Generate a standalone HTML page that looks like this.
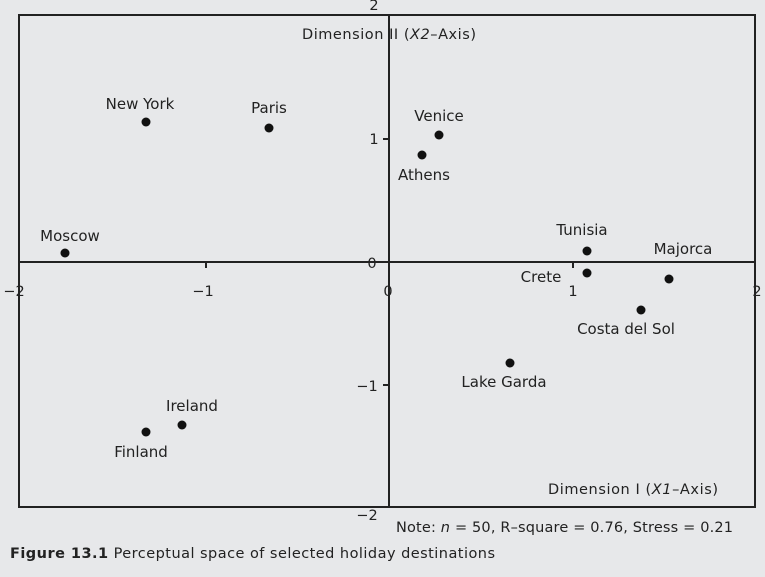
<!DOCTYPE html>
<html><head><style>
html,body{margin:0;padding:0;background:#e7e8ea;}
svg{display:block;font-family:"DejaVu Sans","Liberation Sans",sans-serif;}
</style></head><body>
<svg width="765" height="577" viewBox="0 0 765 577">
<rect width="765" height="577" fill="#e7e8ea"/>
<g stroke="#222" stroke-width="2" fill="none">
<rect x="19" y="15" width="736" height="492"/>
<line x1="389" y1="15" x2="389" y2="507"/>
<line x1="19" y1="262" x2="755" y2="262"/>
<line x1="206" y1="262" x2="206" y2="268"/>
<line x1="573" y1="262" x2="573" y2="268"/>
<line x1="383" y1="139" x2="389" y2="139"/>
<line x1="383" y1="385" x2="389" y2="385"/>
</g>
<g font-size="14.5" fill="#222">
<text x="374" y="10" text-anchor="middle">2</text>
<text x="374" y="144" text-anchor="middle">1</text>
<text x="372" y="268" text-anchor="middle">0</text>
<text x="367" y="391" text-anchor="middle">−1</text>
<text x="367" y="520" text-anchor="middle">−2</text>
<text x="14" y="296" text-anchor="middle">−2</text>
<text x="203" y="296" text-anchor="middle">−1</text>
<text x="388" y="296" text-anchor="middle">0</text>
<text x="573" y="296" text-anchor="middle">1</text>
<text x="757" y="296" text-anchor="middle">2</text>
<text x="302" y="39" textLength="174">Dimension II (<tspan font-style="italic">X2</tspan>–Axis)</text>
<text x="548" y="494" textLength="170">Dimension I (<tspan font-style="italic">X1</tspan>–Axis)</text>
<text x="396" y="532" textLength="337">Note: <tspan font-style="italic">n</tspan> = 50, R–square = 0.76, Stress = 0.21</text>
<text x="10" y="558" textLength="485"><tspan font-weight="bold">Figure 13.1</tspan>  Perceptual space of selected holiday destinations</text>
</g>
<g fill="#111">
<circle cx="146" cy="122" r="4.5"/><circle cx="269" cy="128" r="4.5"/>
<circle cx="65" cy="253" r="4.5"/><circle cx="439" cy="135" r="4.5"/>
<circle cx="422" cy="155" r="4.5"/><circle cx="587" cy="251" r="4.5"/>
<circle cx="587" cy="273" r="4.5"/><circle cx="669" cy="279" r="4.5"/>
<circle cx="641" cy="310" r="4.5"/><circle cx="510" cy="363" r="4.5"/>
<circle cx="182" cy="425" r="4.5"/><circle cx="146" cy="432" r="4.5"/>
</g>
<g font-size="15" fill="#222" text-anchor="middle">
<text x="140" y="109">New York</text>
<text x="269" y="113">Paris</text>
<text x="70" y="241">Moscow</text>
<text x="439" y="121">Venice</text>
<text x="424" y="180">Athens</text>
<text x="582" y="235">Tunisia</text>
<text x="541" y="282">Crete</text>
<text x="683" y="254">Majorca</text>
<text x="626" y="334">Costa del Sol</text>
<text x="504" y="387">Lake Garda</text>
<text x="192" y="411">Ireland</text>
<text x="141" y="457">Finland</text>
</g>
</svg>
</body></html>
